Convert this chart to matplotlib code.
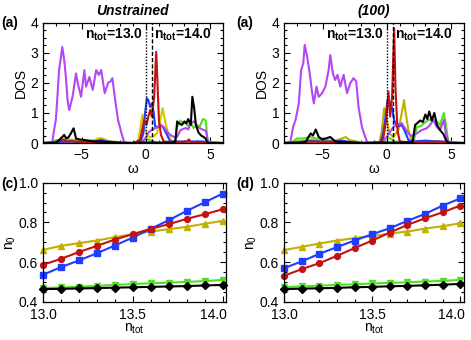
import matplotlib
matplotlib.use("Agg")
import matplotlib.pyplot as plt
from matplotlib.ticker import MultipleLocator
from matplotlib.transforms import ScaledTranslation

plt.rcParams["font.family"] = ["Liberation Sans", "DejaVu Sans"]
plt.rcParams["mathtext.fontset"] = "custom"
plt.rcParams["mathtext.rm"] = "Liberation Sans"
plt.rcParams["mathtext.it"] = "Liberation Sans:italic"
plt.rcParams["mathtext.bf"] = "Liberation Sans:bold"

# Colores
C_PURPLE = "#b446f5"
C_RED = "#c41212"
C_BLUE = "#1f3dff"
C_YELLOW = "#d8c400"
C_OLIVE = "#c0b000"
C_GREEN = "#50e020"
C_BLACK = "#000000"

# DOS (omega, DOS) -- panel Unstrained
PURPLE_A = [(-8, 0), (-7.4, 0), (-7.27, 0.05), (-7.14, 0.43), (-7.0, 0.77), (-6.88, 1.54), (-6.75, 2.43),
            (-6.6, 2.88), (-6.5, 3.2), (-6.35, 2.77), (-6.22, 2.2), (-6.09, 1.43), (-5.96, 1.1), (-5.7, 1.54),
            (-5.43, 2.32), (-5.3, 2.0), (-5.04, 1.54), (-4.78, 2.43), (-4.65, 1.88), (-4.39, 2.2), (-4.13, 1.77),
            (-3.86, 2.43), (-3.65, 2.27), (-3.47, 2.43), (-3.2, 1.66), (-2.94, 2.0), (-2.75, 2.05), (-2.6, 2.16),
            (-2.42, 1.54), (-2.16, 0.77), (-1.89, 0.32), (-1.7, 0.05), (-1.5, 0), (-0.4, 0), (-0.1, 0.1),
            (0.2, 0.35), (0.5, 0.45), (0.8, 0.5), (1.13, 0.6), (1.39, 0.54), (1.65, 0.38), (1.91, 0.27),
            (2.2, 0.2), (2.44, 0.21), (2.7, 0.43), (3.1, 0.5), (3.3, 0.45), (3.49, 0.66), (3.75, 0.72),
            (4.0, 0.54), (4.41, 0.45), (4.67, 0.4), (4.85, 0.05), (5.0, 0), (6, 0)]
RED_A = [(-8, 0), (-7.0, 0.02), (-6.6, 0.1), (-6.4, 0.12), (-6.2, 0.05), (-5.8, 0.06), (-5.0, 0.03),
         (-4.0, 0.02), (-3.5, 0.03), (-2.5, 0), (-1.0, 0), (-0.45, 0.1), (-0.3, 0.4), (-0.13, 0.77),
         (0.05, 0.6), (0.2, 0.88), (0.34, 1.1), (0.47, 0.88), (0.65, 1.54), (0.81, 3.04), (0.92, 1.88),
         (1.02, 0.77), (1.18, 0.27), (1.39, 0.05), (2.5, 0.02), (3.2, 0.05), (3.35, 0.12), (3.5, 0.03),
         (4.5, 0.02), (6, 0)]
BLUE_A = [(-8, 0), (-7, 0.02), (-6, 0.05), (-5, 0.03), (-4, 0.05), (-3.5, 0.1), (-3, 0.05), (-2, 0.01),
          (-1, 0), (-0.4, 0.05), (-0.19, 0.32), (-0.06, 0.99), (0.08, 1.49), (0.2, 1.43), (0.34, 1.2),
          (0.47, 1.32), (0.6, 1.05), (0.73, 0.54), (0.99, 0.54), (1.18, 0.6), (1.39, 0.49), (1.65, 0.27),
          (1.9, 0.05), (3, 0.05), (4.5, 0.05), (4.7, 0), (6, 0)]
YELLOW_A = [(-8, 0), (-7, 0.02), (-6.5, 0.08), (-6, 0.05), (-5, 0.05), (-4, 0.1), (-3.7, 0.15), (-3.5, 0.17),
            (-3.2, 0.12), (-3, 0.08), (-2, 0.02), (-1, 0), (-0.6, 0.05), (-0.45, 0.43), (-0.26, 0.95),
            (-0.13, 0.54), (0.07, 0.27), (0.3, 0.2), (0.6, 0.22), (0.86, 0.32), (1.13, 0.77), (1.31, 1.16),
            (1.44, 0.88), (1.6, 0.54), (1.78, 0.27), (2.0, 0.05), (3, 0.02), (4.5, 0.02), (6, 0)]
GREEN_A = [(-8, 0), (-7.3, 0.02), (-7, 0.1), (-6.5, 0.08), (-6, 0.12), (-5.5, 0.1), (-5, 0.08), (-4.5, 0.06),
           (-4, 0.05), (-3.5, 0.08), (-3, 0.05), (-2.5, 0.02), (-1, 0), (-0.3, 0.05), (0, 0.15), (0.3, 0.1),
           (0.6, 0.05), (1.0, 0.02), (2.0, 0.02), (2.3, 0.1), (2.44, 0.55), (2.7, 0.75), (2.9, 0.65),
           (3.1, 0.7), (3.3, 0.55), (3.49, 0.7), (3.7, 0.5), (4.0, 0.6), (4.2, 0.55), (4.44, 0.8),
           (4.67, 0.75), (4.8, 0.05), (6, 0)]
BLACK_A = [(-8, 0), (-7, 0.01), (-6.75, 0.1), (-6.5, 0.2), (-6.35, 0.27), (-6.2, 0.15), (-6.0, 0.2),
           (-5.83, 0.32), (-5.62, 0.49), (-5.43, 0.15), (-5.2, 0.12), (-4.8, 0.1), (-4.0, 0.05), (-3.5, 0.05),
           (-3.0, 0.03), (-2.0, 0.01), (-1, 0), (0, 0.02), (1, 0.01), (2.0, 0.01), (2.3, 0.05), (2.44, 0.72),
           (2.6, 0.65), (2.8, 0.6), (3.0, 0.72), (3.15, 0.65), (3.3, 0.8), (3.5, 0.6), (3.62, 1.54),
           (3.75, 1.2), (3.9, 0.6), (4.1, 0.35), (4.3, 0.25), (4.5, 0.2), (4.65, 0.15), (4.8, 0), (6, 0)]

# DOS -- panel (100)
PURPLE_B = [(-8, 0), (-7.6, 0), (-7.5, 0.05), (-7.29, 0.54), (-7.1, 0.77), (-6.85, 1.32), (-6.67, 2.43),
            (-6.5, 2.66), (-6.39, 3.27), (-6.2, 2.88), (-6.0, 2.32), (-5.81, 1.66), (-5.68, 1.32), (-5.47, 1.88),
            (-5.3, 1.54), (-5.04, 1.66), (-4.78, 1.88), (-4.53, 2.43), (-4.4, 2.93), (-4.2, 2.32), (-4.02, 2.1),
            (-3.84, 2.27), (-3.62, 1.88), (-3.36, 2.27), (-3.1, 1.66), (-2.84, 2.0), (-2.59, 2.16), (-2.38, 2.05),
            (-2.2, 1.2), (-1.94, 0.54), (-1.68, 0.2), (-1.5, 0), (-0.4, 0), (-0.26, 0.1), (0, 0.2), (0.26, 0.38),
            (0.52, 0.54), (0.78, 0.6), (1.16, 0.66), (1.42, 0.49), (1.68, 0.32), (1.94, 0.23), (2.33, 0.32),
            (2.71, 0.43), (3.1, 0.49), (3.36, 0.6), (3.62, 0.77), (3.88, 0.54), (4.13, 0.43), (4.44, 0.77),
            (4.6, 0.3), (4.78, 0.05), (5.0, 0), (6, 0)]
RED_B = [(-8, 0), (-7, 0.02), (-6, 0.05), (-5, 0.03), (-4, 0.02), (-3, 0.02), (-2, 0), (-0.5, 0),
         (-0.26, 0.2), (-0.05, 0.77), (0.13, 1.71), (0.26, 0.88), (0.41, 1.54), (0.57, 3.82), (0.67, 1.88),
         (0.83, 0.43), (1.0, 0.05), (2, 0.02), (3, 0.03), (4, 0.05), (4.6, 0.02), (6, 0)]
BLUE_B = [(-8, 0), (-7, 0.03), (-6, 0.06), (-5, 0.05), (-4, 0.05), (-3.5, 0.08), (-3, 0.04), (-2, 0),
          (-0.5, 0.02), (-0.3, 0.3), (-0.13, 0.77), (0.05, 1.43), (0.2, 1.38), (0.39, 1.2), (0.57, 0.77),
          (0.78, 0.54), (1.16, 0.6), (1.42, 0.38), (1.68, 0.1), (2, 0.05), (3, 0.08), (4, 0.05), (4.6, 0.05),
          (4.8, 0), (6, 0)]
YELLOW_B = [(-8, 0), (-7, 0.05), (-6, 0.1), (-5, 0.08), (-4, 0.08), (-3.5, 0.15), (-3.2, 0.2), (-2.9, 0.1),
            (-2, 0.02), (-1, 0), (-0.55, 0.05), (-0.39, 0.43), (-0.21, 1.16), (0, 0.77), (0.2, 0.32),
            (0.5, 0.2), (0.9, 0.43), (1.16, 0.99), (1.34, 1.43), (1.45, 1.05), (1.68, 0.43), (1.9, 0.1),
            (2.2, 0.02), (4, 0.02), (6, 0)]
GREEN_B = [(-8, 0), (-7.3, 0.05), (-7, 0.15), (-6.5, 0.15), (-6, 0.2), (-5.5, 0.15), (-5, 0.1), (-4.5, 0.08),
           (-4, 0.05), (-3, 0.03), (-2, 0), (-0.3, 0.02), (0, 0.2), (0.3, 0.15), (0.6, 0.05), (1.5, 0.02),
           (2.1, 0.05), (2.33, 0.54), (2.6, 0.55), (2.9, 0.66), (3.23, 0.77), (3.5, 0.77), (3.88, 0.72),
           (4.13, 0.6), (4.44, 1.0), (4.6, 0.6), (4.78, 0.05), (6, 0)]
BLACK_B = [(-8, 0), (-6.8, 0), (-6.3, 0.04), (-6.1, 0.2), (-5.92, 0.32), (-5.75, 0.25), (-5.53, 0.45),
           (-5.3, 0.2), (-5.0, 0.12), (-4.76, 0.15), (-4.4, 0.2), (-4.0, 0.05), (-3, 0.02), (-2, 0), (0, 0.02),
           (1, 0.01), (2.0, 0.02), (2.2, 0.6), (2.6, 0.75), (2.8, 0.7), (3.0, 0.95), (3.15, 0.8), (3.3, 1.05),
           (3.5, 0.75), (3.7, 1.0), (3.9, 0.6), (4.2, 0.4), (4.4, 0.3), (4.6, 0.1), (4.8, 0), (6, 0)]

MU_13 = 0.0
MU_14 = 0.45

# Ocupaciones n0 vs n_tot
N_TOT = [13.0, 13.1, 13.2, 13.3, 13.4, 13.5, 13.6, 13.7, 13.8, 13.9, 14.0]
BLUE_C = [0.537, 0.575, 0.609, 0.645, 0.684, 0.724, 0.768, 0.811, 0.858, 0.901, 0.945]
RED_C = [0.587, 0.617, 0.651, 0.682, 0.714, 0.741, 0.768, 0.791, 0.818, 0.841, 0.866]
YELLOW_C = [0.662, 0.682, 0.696, 0.709, 0.726, 0.741, 0.754, 0.766, 0.778, 0.793, 0.808]
GREEN_C = [0.470, 0.473, 0.477, 0.481, 0.486, 0.490, 0.494, 0.497, 0.501, 0.505, 0.511]
BLACK_C = [0.465, 0.466, 0.468, 0.470, 0.472, 0.474, 0.476, 0.478, 0.480, 0.483, 0.486]

BLUE_D = [0.570, 0.604, 0.642, 0.676, 0.709, 0.741, 0.771, 0.808, 0.843, 0.885, 0.921]
RED_D = [0.532, 0.565, 0.595, 0.632, 0.671, 0.709, 0.749, 0.788, 0.821, 0.851, 0.885]
YELLOW_D = [0.661, 0.677, 0.694, 0.709, 0.721, 0.732, 0.744, 0.754, 0.769, 0.781, 0.796]
GREEN_D = [0.475, 0.478, 0.482, 0.486, 0.489, 0.493, 0.496, 0.499, 0.503, 0.506, 0.511]
BLACK_D = [0.465, 0.467, 0.469, 0.471, 0.474, 0.476, 0.479, 0.481, 0.484, 0.487, 0.491]

OCC_TICKS = [13.0, 13.5, 14.0]


def style_axes(ax):
    ax.tick_params(which="both", direction="in", top=True, right=True, labelsize=10, width=0.8)
    ax.tick_params(which="major", length=4)
    ax.tick_params(which="minor", length=2)
    for spine in ax.spines.values():
        spine.set_linewidth(0.9)


def draw_dos(ax, curves, title):
    for data, color in curves:
        w = [p[0] for p in data]
        d = [p[1] for p in data]
        ax.plot(w, d, color=color, linewidth=1.5)
    ax.axvline(MU_13, color="black", linestyle=(0, (1, 1.2)), linewidth=1.0)
    ax.axvline(MU_14, color="black", linestyle=(0, (3, 1.5)), linewidth=1.0)
    ax.set_xlim(-8, 6)
    ax.set_ylim(0, 4)
    ax.xaxis.set_major_locator(MultipleLocator(5))
    ax.xaxis.set_minor_locator(MultipleLocator(1))
    ax.yaxis.set_major_locator(MultipleLocator(1))
    ax.yaxis.set_minor_locator(MultipleLocator(0.25))
    ax.set_xlabel("ω", fontsize=10, labelpad=0)
    ax.set_ylabel("DOS", fontsize=10, labelpad=2)
    ax.set_title(title, fontsize=10, fontweight="bold", fontstyle="italic", pad=6)
    ax.text(MU_13 - 0.2, 3.6, r"n$_{\mathbf{tot}}$=13.0", ha="right", va="center",
            fontsize=10, fontweight="bold")
    ax.text(MU_14 + 0.2, 3.6, r"n$_{\mathbf{tot}}$=14.0", ha="left", va="center",
            fontsize=10, fontweight="bold")
    style_axes(ax)


def draw_occ(ax, series):
    for values, color, marker in series:
        ax.plot(N_TOT, values, color=color, linewidth=1.5, marker=marker, markersize=4.2, clip_on=False)
    ax.set_xlim(13.0, 14.02)
    ax.set_ylim(0.4, 1.0)
    ax.set_xticks(OCC_TICKS)
    ax.set_xticklabels([f"{v:.1f}" for v in OCC_TICKS])
    ax.xaxis.set_minor_locator(MultipleLocator(0.1))
    ax.yaxis.set_major_locator(MultipleLocator(0.2))
    ax.yaxis.set_minor_locator(MultipleLocator(0.05))
    ax.yaxis.set_major_formatter(lambda v, p: f"{v:.1f}")
    ax.set_xlabel(r"n$_{\rm tot}$", fontsize=10, labelpad=0)
    ax.set_ylabel(r"n$_0$", fontsize=10, labelpad=1)
    style_axes(ax)
    ax.tick_params(axis="x", which="major", pad=4)
    # el rotulo 14.0 queda desplazado hacia dentro, como en el original
    last = ax.xaxis.get_major_ticks()[-1].label1
    last.set_transform(last.get_transform() + ScaledTranslation(-9 / 100, 0, ax.figure.dpi_scale_trans))


fig = plt.figure(figsize=(4.71, 3.40), dpi=100)
ax_a = fig.add_axes([0.0913, 0.5794, 0.382, 0.353])
ax_b = fig.add_axes([0.603, 0.5794, 0.382, 0.353])
ax_c = fig.add_axes([0.0913, 0.1118, 0.389, 0.351])
ax_d = fig.add_axes([0.603, 0.1118, 0.382, 0.351])

draw_dos(ax_a, [(GREEN_A, C_GREEN), (YELLOW_A, C_YELLOW), (BLUE_A, C_BLUE), (PURPLE_A, C_PURPLE),
                (RED_A, C_RED), (BLACK_A, C_BLACK)], "Unstrained")
draw_dos(ax_b, [(GREEN_B, C_GREEN), (YELLOW_B, C_OLIVE), (BLUE_B, C_BLUE), (PURPLE_B, C_PURPLE),
                (RED_B, C_RED), (BLACK_B, C_BLACK)], "(100)")

draw_occ(ax_c, [(GREEN_C, C_GREEN, "v"), (BLACK_C, C_BLACK, "D"), (YELLOW_C, C_OLIVE, "^"),
                (BLUE_C, C_BLUE, "s"), (RED_C, C_RED, "o")])
draw_occ(ax_d, [(GREEN_D, C_GREEN, "v"), (BLACK_D, C_BLACK, "D"), (YELLOW_D, C_OLIVE, "^"),
                (BLUE_D, C_BLUE, "s"), (RED_D, C_RED, "o")])

fig.text(0.002, 0.9324, "(a)", fontsize=10, fontweight="bold", ha="left", va="center")
fig.text(0.502, 0.9324, "(a)", fontsize=10, fontweight="bold", ha="left", va="center")
fig.text(0.002, 0.459, "(c)", fontsize=10, fontweight="bold", ha="left", va="center")
fig.text(0.502, 0.459, "(d)", fontsize=10, fontweight="bold", ha="left", va="center")

fig.savefig("out.png", dpi=100)
